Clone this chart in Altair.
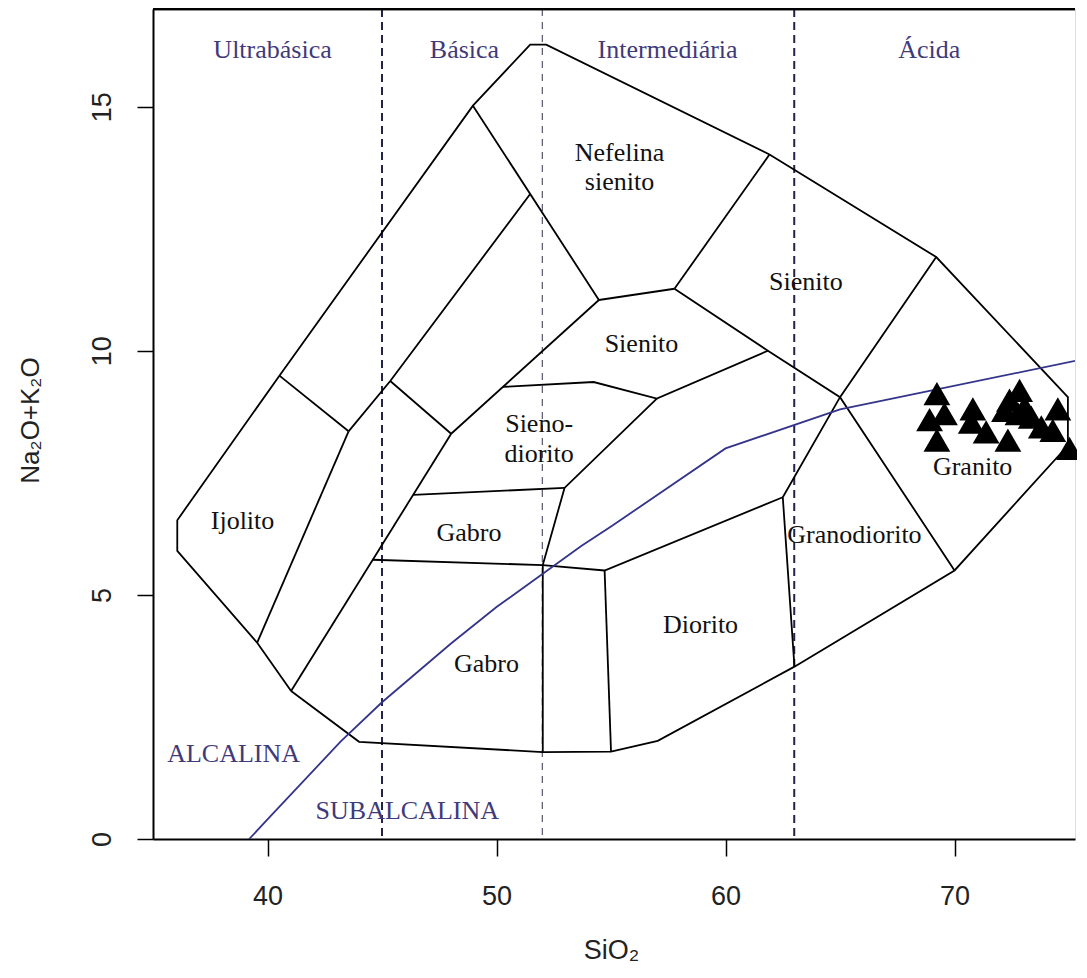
import altair as alt
import pandas as pd

# ---------------- data ----------------
# outer boundary of the TAS (plutonic) diagram
outer_x = [41.03, 44.0, 52.02, 55.0, 57.04, 63.01, 70.0, 74.95, 74.95, 69.2, 61.92, 52.17, 51.47, 48.97, 40.52, 36.06, 36.06, 39.55, 41.03]
outer_y = [3.03, 1.99, 1.78, 1.79, 2.01, 3.53, 5.5, 8.06, 9.05, 11.92, 14.02, 16.27, 16.27, 15.02, 9.49, 6.53, 5.9, 4.02, 3.03]

# internal field boundaries
ijolito_top_x = [40.52, 43.54]
ijolito_top_y = [9.49, 8.35]
ijolito_right_x = [43.54, 39.55]
ijolito_right_y = [8.35, 4.02]
line_a_x = [43.54, 45.36, 51.47]
line_a_y = [8.35, 9.38, 13.21]
sep_b_x = [45.36, 48.02]
sep_b_y = [9.38, 8.30]
strip_right_x = [48.02, 41.03]
strip_right_y = [8.30, 3.03]
line_d_x = [48.97, 54.47]
line_d_y = [15.02, 11.04]
line_c_x = [48.02, 54.47]
line_c_y = [8.30, 11.04]
nef_bottom_x = [54.47, 57.77]
nef_bottom_y = [11.04, 11.27]
nef_right_x = [57.77, 61.92]
nef_right_y = [11.27, 14.02]
line_e_x = [57.77, 61.85, 65.0, 70.0]
line_e_y = [11.27, 10.0, 9.05, 5.5]
sien_bottom_x = [50.28, 54.24, 57.0, 61.85]
sien_bottom_y = [9.26, 9.36, 9.02, 10.0]
sdior_right_x = [57.0, 52.97, 52.02]
sdior_right_y = [9.02, 7.19, 5.61]
gabro_top_x = [46.36, 52.97]
gabro_top_y = [7.05, 7.19]
gabro_bottom_x = [44.6, 52.02, 54.72, 62.5]
gabro_bottom_y = [5.72, 5.61, 5.50, 7.0]
gabro_right_x = [52.02, 52.02]
gabro_right_y = [5.61, 1.78]
diorito_left_x = [54.72, 55.0]
diorito_left_y = [5.50, 1.79]
granodiorito_x = [69.2, 65.0, 62.5, 63.01]
granodiorito_y = [11.92, 9.05, 7.0, 3.53]

# alkaline / subalkaline divide
alk_x = [39.2, 40, 43.2, 45, 48, 50, 53.7, 55, 60, 65, 77.4]
alk_y = [0, 0.4, 2, 2.8, 4, 4.75, 6, 6.4, 8, 8.8, 10]

# silica class limits
limits_strong = [45, 63]
limits_light = [52]

# samples
tri_x = [69.23, 68.91, 69.56, 69.23, 70.80, 70.73, 71.38, 72.33, 72.84, 72.40, 72.18, 73.06, 73.35, 72.77, 74.51, 74.29, 73.79, 75.02]
tri_y = [9.12, 8.59, 8.71, 8.17, 8.81, 8.54, 8.34, 8.17, 9.19, 8.99, 8.78, 8.85, 8.64, 8.71, 8.81, 8.37, 8.44, 8.0]

# labels
field_labels = ["Ijolito", "Gabro", "Gabro", "Sieno-", "diorito", "Sienito", "Nefelina", "sienito", "Sienito", "Diorito", "Granodiorito", "Granito"]
field_x = [38.91, 48.8, 49.56, 51.86, 51.86, 56.33, 55.37, 55.37, 63.51, 58.91, 65.63, 70.79]
field_y = [6.34, 6.10, 3.42, 8.33, 7.73, 9.97, 13.88, 13.30, 11.25, 4.21, 6.06, 7.45]

class_labels = ["Ultrabásica", "Básica", "Intermediária", "Ácida"]
class_x = [40.22, 48.6, 57.47, 68.9]
class_y = [16.0, 16.0, 16.0, 16.0]

series_labels_c = ["ALCALINA"]
series_c_x = [38.52]
series_c_y = [1.57]
series_labels_l = ["SUBALCALINA"]
series_l_x = [42.1]
series_l_y = [0.40]

x_ticks = [40, 50, 60, 70]
y_ticks = [0, 5, 10, 15]

# ---------------- tables ----------------
segments = {
    "outer": (outer_x, outer_y),
    "ijolito_top": (ijolito_top_x, ijolito_top_y),
    "ijolito_right": (ijolito_right_x, ijolito_right_y),
    "line_a": (line_a_x, line_a_y),
    "sep_b": (sep_b_x, sep_b_y),
    "strip_right": (strip_right_x, strip_right_y),
    "line_d": (line_d_x, line_d_y),
    "line_c": (line_c_x, line_c_y),
    "nef_bottom": (nef_bottom_x, nef_bottom_y),
    "nef_right": (nef_right_x, nef_right_y),
    "line_e": (line_e_x, line_e_y),
    "sien_bottom": (sien_bottom_x, sien_bottom_y),
    "sdior_right": (sdior_right_x, sdior_right_y),
    "gabro_top": (gabro_top_x, gabro_top_y),
    "gabro_bottom": (gabro_bottom_x, gabro_bottom_y),
    "gabro_right": (gabro_right_x, gabro_right_y),
    "diorito_left": (diorito_left_x, diorito_left_y),
    "granodiorito": (granodiorito_x, granodiorito_y),
}
rows = []
for name, (xs, ys) in segments.items():
    for i, (a, b) in enumerate(zip(xs, ys)):
        rows.append({"seg": name, "order": i, "x": a, "y": b})
bounds_df = pd.DataFrame(rows)
alk_df = pd.DataFrame({"x": alk_x, "y": alk_y, "order": list(range(len(alk_x)))})
tri_df = pd.DataFrame({"x": tri_x, "y": tri_y})
field_df = pd.DataFrame({"x": field_x, "y": field_y, "t": field_labels})
class_df = pd.DataFrame({"x": class_x, "y": class_y, "t": class_labels})
sc_df = pd.DataFrame({"x": series_c_x, "y": series_c_y, "t": series_labels_c})
sl_df = pd.DataFrame({"x": series_l_x, "y": series_l_y, "t": series_labels_l})
lim_s_df = pd.DataFrame({"x": limits_strong})
lim_l_df = pd.DataFrame({"x": limits_light})

W, H = 922, 830
SERIF = "Liberation Serif"
SANS = "Liberation Sans"
PURPLE = "#3f3a7a"

xscale = alt.Scale(domain=[35, 75.26], nice=False, zero=False)
yscale = alt.Scale(domain=[0, 17], nice=False, zero=False)

X = alt.X("x:Q", scale=xscale, axis=alt.Axis(
    values=x_ticks, title="SiO₂", grid=False, domainColor="black", domainWidth=2,
    tickColor="black", tickWidth=1.5, tickSize=17, labelFont=SANS, labelFontSize=27,
    labelColor="#222222", labelPadding=27, titleFont=SANS, titleFontSize=27,
    titleFontWeight="normal", titleColor="#222222", titleX=458, titleY=119,
    titleAlign="center", titleBaseline="alphabetic"))
Y = alt.Y("y:Q", scale=yscale, axis=alt.Axis(
    values=y_ticks, title="Na₂O+K₂O", grid=False, domainColor="black", domainWidth=2,
    tickColor="black", tickWidth=1.5, tickSize=16, labelFont=SANS, labelFontSize=27,
    labelColor="#222222", labelAngle=270, labelAlign="center", labelBaseline="middle",
    labelPadding=35, titleFont=SANS, titleFontSize=26, titleFontWeight="normal",
    titleColor="#222222", titleAngle=270, titleX=-123, titleY=411,
    titleAlign="center", titleBaseline="middle"))

lim_strong = alt.Chart(lim_s_df).mark_rule(
    color="#23234a", strokeWidth=2, strokeDash=[8, 5]).encode(x=X)
lim_light = alt.Chart(lim_l_df).mark_rule(
    color="#555566", strokeWidth=1.2, strokeDash=[7, 6]).encode(x=X)

bounds = alt.Chart(bounds_df).mark_line(color="black", strokeWidth=1.8, clip=True).encode(
    x=X, y=Y, detail="seg:N", order="order:Q")
alk = alt.Chart(alk_df).mark_line(color="#34348a", strokeWidth=1.8, clip=True).encode(
    x=X, y=Y, order="order:Q")
tri = alt.Chart(tri_df).mark_point(shape="triangle-up", filled=True, size=720,
                                   color="black", opacity=1).encode(x=X, y=Y)

fields = alt.Chart(field_df).mark_text(font=SERIF, fontSize=26, color="#111111",
                                       align="center", baseline="alphabetic").encode(x=X, y=Y, text="t:N")
classes = alt.Chart(class_df).mark_text(font=SERIF, fontSize=26, color=PURPLE,
                                        align="center", baseline="alphabetic").encode(x=X, y=Y, text="t:N")
ser_c = alt.Chart(sc_df).mark_text(font=SERIF, fontSize=26, color=PURPLE,
                                   align="center", baseline="alphabetic").encode(x=X, y=Y, text="t:N")
ser_l = alt.Chart(sl_df).mark_text(font=SERIF, fontSize=26, color=PURPLE,
                                   align="left", baseline="alphabetic").encode(x=X, y=Y, text="t:N")

top_border = alt.Chart(lim_s_df).mark_rule(color="black", strokeWidth=2.5).encode(
    x=alt.value(0), x2=alt.value(W), y=alt.value(0))

chart = alt.layer(
    lim_strong, lim_light, bounds, alk, tri, fields, classes, ser_c, ser_l, top_border
).properties(
    width=W, height=H,
    autosize=alt.AutoSizeParams(type="none"),
    padding={"left": 145, "top": 1, "right": 2, "bottom": 124},
).configure_view(stroke=None).configure(background="white")

chart.save("out.html", embed_options={"renderer": "svg", "actions": False})
